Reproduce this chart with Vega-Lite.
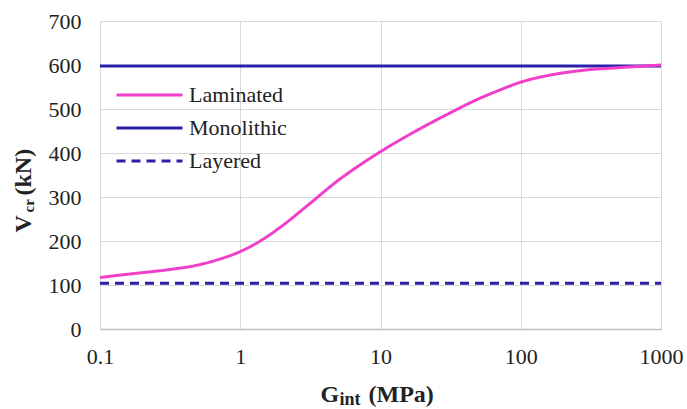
{
  "$schema": "https://vega.github.io/schema/vega-lite/v6.json",
  "width": 561,
  "height": 308,
  "autosize": "none",
  "padding": {"left": 100, "top": 21, "right": 26, "bottom": 80},
  "background": "white",
  "data": {
    "values": [
      {"series": "Monolithic", "G": 0.1, "V": 598},
      {"series": "Monolithic", "G": 1000, "V": 598},
      {"series": "Layered", "G": 0.1, "V": 104},
      {"series": "Layered", "G": 1000, "V": 104},
      {"series": "Laminated", "G": 0.1, "V": 117},
      {"series": "Laminated", "G": 0.15, "V": 123.7},
      {"series": "Laminated", "G": 0.2, "V": 128},
      {"series": "Laminated", "G": 0.3, "V": 134.4},
      {"series": "Laminated", "G": 0.5, "V": 145.5},
      {"series": "Laminated", "G": 0.7, "V": 158},
      {"series": "Laminated", "G": 1, "V": 176},
      {"series": "Laminated", "G": 1.5, "V": 206.8},
      {"series": "Laminated", "G": 2, "V": 235},
      {"series": "Laminated", "G": 3, "V": 280},
      {"series": "Laminated", "G": 5, "V": 338},
      {"series": "Laminated", "G": 7, "V": 371},
      {"series": "Laminated", "G": 10, "V": 403},
      {"series": "Laminated", "G": 15, "V": 436.5},
      {"series": "Laminated", "G": 20, "V": 458.5},
      {"series": "Laminated", "G": 30, "V": 488},
      {"series": "Laminated", "G": 50, "V": 523},
      {"series": "Laminated", "G": 70, "V": 542.5},
      {"series": "Laminated", "G": 100, "V": 561},
      {"series": "Laminated", "G": 150, "V": 575},
      {"series": "Laminated", "G": 200, "V": 582},
      {"series": "Laminated", "G": 300, "V": 589},
      {"series": "Laminated", "G": 500, "V": 594},
      {"series": "Laminated", "G": 1000, "V": 600}
    ]
  },
  "config": {
    "font": "Liberation Serif",
    "view": {"stroke": null},
    "axis": {
      "labelFont": "Liberation Serif",
      "labelFontSize": 22,
      "labelColor": "#222222",
      "titleFont": "Liberation Serif",
      "titleFontWeight": "bold",
      "titleColor": "#222222",
      "ticks": false,
      "gridColor": "#D9D9D9",
      "gridWidth": 1,
      "gridOpacity": 1,
      "labelFlush": false,
      "labelOverlap": false,
      "labelBound": false
    }
  },
  "layer": [
    {
      "mark": {"type": "line", "strokeWidth": 3, "interpolate": "monotone", "strokeCap": "butt"},
      "encoding": {
        "x": {
          "field": "G", "type": "quantitative",
          "scale": {"type": "log", "domain": [0.1, 1000], "nice": false},
          "axis": {
            "values": [0.1, 1, 10, 100, 1000], "format": "~g", "grid": true,
            "domain": true, "domainColor": "#BFBFBF", "domainWidth": 1.5,
            "labelPadding": 17,
            "title": "G", "titleFontSize": 24, "titleAngle": 0, "titleAlign": "left",
            "titleBaseline": "alphabetic", "titleX": 220, "titleY": 72, "titleAnchor": null
          }
        },
        "y": {
          "field": "V", "type": "quantitative",
          "scale": {"domain": [0, 700], "nice": false, "zero": true},
          "axis": {
            "values": [0, 100, 200, 300, 400, 500, 600, 700], "grid": true, "domain": false,
            "labelPadding": 19,
            "title": "V", "titleFontSize": 24, "titleAngle": 270, "titleAlign": "left",
            "titleBaseline": "alphabetic", "titleX": -70, "titleY": 211
          }
        },
        "color": {
          "field": "series", "type": "nominal",
          "scale": {"domain": ["Laminated", "Monolithic", "Layered"], "range": ["#F23FC9", "#2A1FA8", "#2A1FA8"]},
          "legend": {
            "title": null, "orient": "none", "legendX": 15, "legendY": 63, "direction": "vertical",
            "symbolType": "stroke", "symbolSize": 4356, "symbolStrokeWidth": 3,
            "labelFont": "Liberation Serif", "labelFontSize": 22, "labelColor": "#222222",
            "clipHeight": 22, "rowPadding": 11, "labelOffset": 5, "padding": 0
          }
        },
        "strokeDash": {
          "field": "series", "type": "nominal",
          "scale": {"domain": ["Laminated", "Monolithic", "Layered"], "range": [[1, 0], [1, 0], [9, 6]]},
          "legend": {
            "title": null, "orient": "none", "legendX": 15, "legendY": 63, "direction": "vertical",
            "symbolType": "stroke", "symbolSize": 4356, "symbolStrokeWidth": 3,
            "labelFont": "Liberation Serif", "labelFontSize": 22, "labelColor": "#222222",
            "clipHeight": 22, "rowPadding": 11, "labelOffset": 5, "padding": 0
          }
        }
      }
    },
    {
      "mark": {"type": "point", "opacity": 0},
      "encoding": {
        "x": {
          "field": "G", "type": "quantitative",
          "axis": {
            "orient": "bottom", "grid": false, "labels": false, "domain": false, "ticks": false,
            "title": "int", "titleFontSize": 18, "titleAngle": 0, "titleAlign": "left",
            "titleBaseline": "alphabetic", "titleX": 239, "titleY": 75, "titleAnchor": null
          }
        },
        "y": {
          "field": "V", "type": "quantitative",
          "axis": {
            "orient": "left", "grid": false, "labels": false, "domain": false, "ticks": false,
            "title": "cr", "titleFontSize": 15, "titleAngle": 270, "titleAlign": "left",
            "titleBaseline": "alphabetic", "titleX": -67, "titleY": 191
          }
        }
      }
    },
    {
      "mark": {"type": "point", "opacity": 0},
      "encoding": {
        "x": {
          "field": "G", "type": "quantitative",
          "axis": {
            "orient": "bottom", "grid": false, "labels": false, "domain": false, "ticks": false,
            "title": "(MPa)", "titleFontSize": 24, "titleAngle": 0, "titleAlign": "left",
            "titleBaseline": "alphabetic", "titleX": 268, "titleY": 72, "titleAnchor": null
          }
        },
        "y": {
          "field": "V", "type": "quantitative",
          "axis": {
            "orient": "left", "grid": false, "labels": false, "domain": false, "ticks": false,
            "title": "(kN)", "titleFontSize": 24, "titleAngle": 270, "titleAlign": "left",
            "titleBaseline": "alphabetic", "titleX": -70, "titleY": 174
          }
        }
      }
    }
  ],
  "resolve": {"axis": {"x": "independent", "y": "independent"}}
}
